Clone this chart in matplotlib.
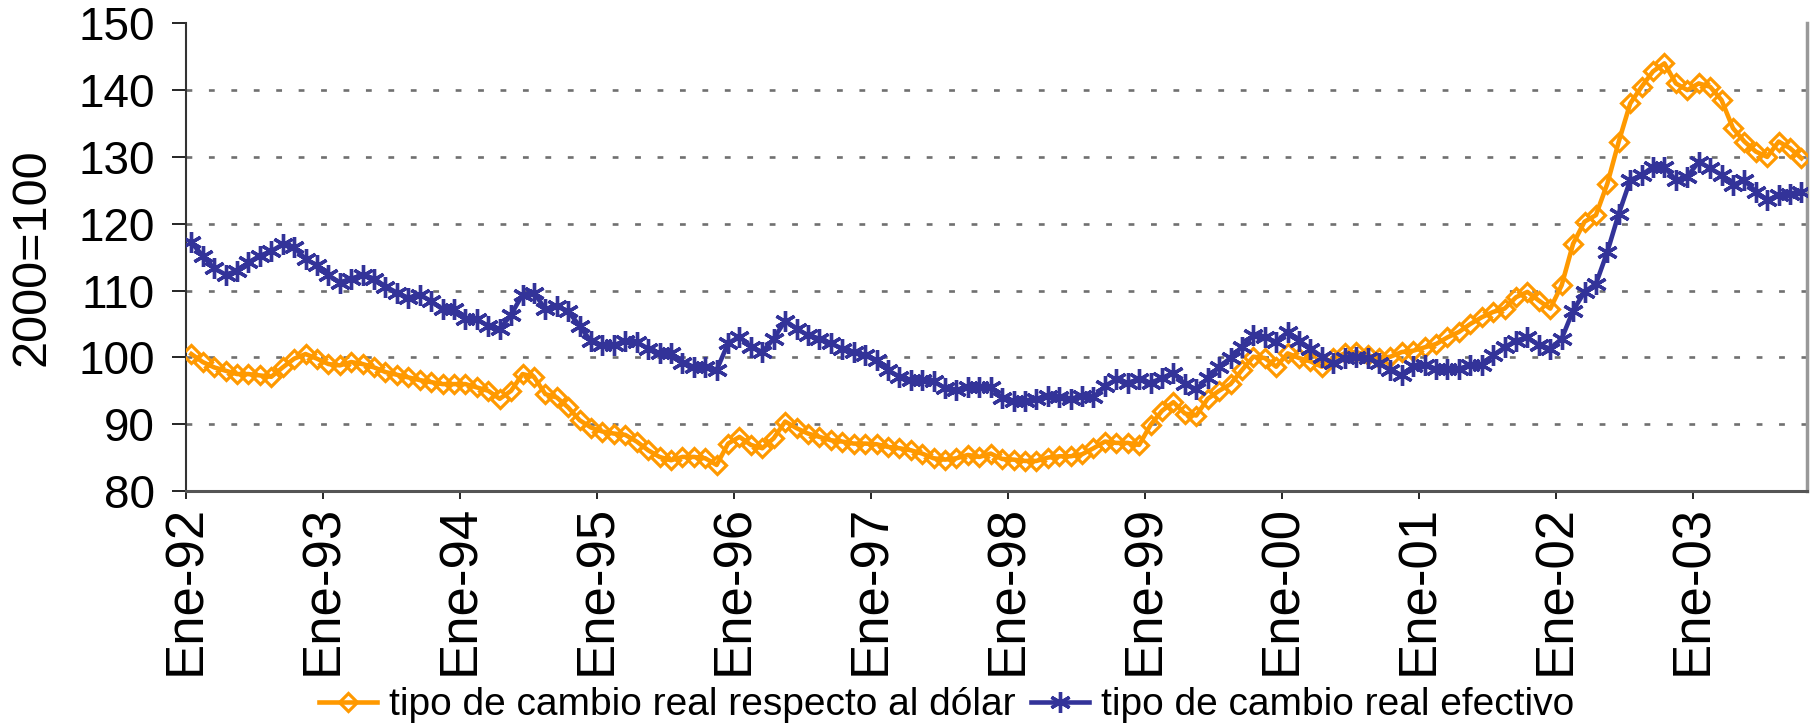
import numpy as np
import matplotlib.pyplot as plt
from matplotlib.lines import Line2D

plt.rcParams['font.family'] = ['Liberation Sans', 'DejaVu Sans']

# indices mensuales, ene-92 a oct-03 (2000=100)
dolar = [100.5, 99.3, 98.5, 98.0, 97.5, 97.5, 97.3, 97.1, 98.5, 99.8, 100.5, 99.8,
         99.0, 98.8, 99.3, 99.0, 98.5, 97.8, 97.4, 97.0, 96.6, 96.3, 96.0, 96.0,
         96.0, 95.5, 95.0, 93.8, 95.0, 97.5, 97.1, 94.5, 94.0, 92.5, 90.6, 89.5,
         88.9, 88.6, 88.4, 87.4, 86.1, 85.1, 84.6, 85.1, 85.1, 84.9, 83.9, 87.1,
         88.1, 86.9, 86.4, 87.9, 90.4, 89.4, 88.6, 88.1, 87.6, 87.4, 87.1, 87.1,
         87.0, 86.6, 86.4, 86.1, 85.6, 84.9, 84.7, 84.9, 85.4, 85.1, 85.6, 84.8,
         84.7, 84.5, 84.5, 85.0, 85.2, 85.2, 85.5, 86.4, 87.4, 87.2, 87.2, 86.9,
         89.9, 92.0, 93.3, 91.6, 91.3, 93.8, 95.0, 96.0, 98.1, 100.1, 99.9, 98.6,
         100.6, 99.9, 99.4, 98.6, 99.9, 100.6, 100.8, 100.3, 99.9, 100.1, 100.8, 101.0,
         101.5, 102.0, 103.0, 103.8, 105.0, 106.0, 106.8, 107.3, 109.0, 109.8, 108.5, 107.3,
         110.8, 117.0, 120.3, 121.3, 126.0, 132.3, 138.0, 140.5, 142.8, 144.0, 141.0, 140.0,
         141.0, 140.5, 138.5, 134.3, 132.3, 130.8, 130.0, 132.3, 131.3, 129.8]

efectivo = [117.2, 115.2, 113.3, 112.4, 112.9, 114.2, 115.2, 115.9, 116.9, 116.5, 114.7, 113.8,
            112.3, 111.2, 111.8, 112.3, 111.8, 110.6, 109.7, 108.9, 109.4, 108.4, 107.2, 107.2,
            105.7, 105.7, 104.7, 104.2, 106.4, 109.4, 109.7, 107.2, 107.7, 106.9, 104.7, 102.4,
            101.8, 101.8, 102.5, 102.3, 101.3, 100.6, 100.6, 99.1, 98.6, 98.6, 98.1, 102.1,
            103.1, 101.6, 100.8, 102.8, 105.5, 104.3, 103.3, 102.8, 102.1, 101.3, 100.8, 100.3,
            99.6, 98.1, 97.1, 96.6, 96.6, 96.4, 95.4, 95.1, 95.6, 95.6, 95.6, 93.9,
            93.5, 93.5, 93.8, 94.2, 94.0, 93.8, 94.2, 94.0, 95.7, 96.7, 96.2, 96.7,
            96.2, 96.9, 97.7, 96.0, 95.2, 96.9, 98.6, 99.9, 101.6, 103.3, 103.0, 102.3,
            103.8, 102.5, 101.3, 100.1, 99.1, 99.9, 100.1, 99.9, 99.1, 98.1, 97.3, 98.7,
            98.8, 98.3, 98.3, 98.3, 98.8, 98.8, 100.3, 101.5, 102.5, 103.0, 101.8, 101.3,
            102.8, 107.0, 109.8, 111.0, 115.8, 121.5, 126.5, 127.3, 128.5, 128.5, 126.5, 127.0,
            129.3, 128.3, 127.3, 125.8, 126.5, 124.8, 123.5, 124.3, 124.5, 124.8]

year_labels = ['Ene-92', 'Ene-93', 'Ene-94', 'Ene-95', 'Ene-96', 'Ene-97',
               'Ene-98', 'Ene-99', 'Ene-00', 'Ene-01', 'Ene-02', 'Ene-03']
y_ticks = [80, 90, 100, 110, 120, 130, 140, 150]

naranja = '#FF9900'
azul = '#333399'

# each month sits in the middle of its category slot
meses = np.arange(len(dolar)) + 0.5

fig = plt.figure(figsize=(18.13, 7.27), dpi=100)
ax = fig.add_axes([0.1024, 0.3246, 0.8944, 0.6434])

estilo_dolar = dict(color=naranja, lw=3.3, marker='D', ms=9.5, mfc='none', mec=naranja, mew=2.3)
estilo_efectivo = dict(color=azul, lw=3.3, marker=(6, 2, 0), ms=15, mec=azul, mew=2.4)

ax.plot(meses, dolar, zorder=3, **estilo_dolar)
ax.plot(meses, efectivo, zorder=4, **estilo_efectivo)

ax.set_xlim(0, len(dolar))
ax.set_ylim(80, 150)
ax.set_xticks(np.arange(len(year_labels)) * 12)
ax.set_xticklabels(year_labels, rotation=90, fontsize=38)
ax.set_yticks(y_ticks)
ax.set_yticklabels([str(v) for v in y_ticks], fontsize=33)

ax.tick_params(axis='y', direction='out', length=10, width=1.2, pad=12, colors='black')
ax.tick_params(axis='x', direction='out', length=6, width=1.2, pad=4, colors='black')

ax.set_ylabel('2000=100', fontsize=35)
ax.yaxis.set_label_coords(-0.081, 0.5)

# dotted horizontal grid, skipping the frame edges
ax.set_axisbelow(True)
ax.yaxis.grid(True, color='#707070', lw=1.9, ls=(0, (2.2, 6.3)))
ax.yaxis.get_major_ticks()[-1].gridline.set_visible(False)
ax.yaxis.get_major_ticks()[0].gridline.set_visible(False)

ax.spines['top'].set_visible(False)
ax.spines['left'].set_color('#333333')
ax.spines['left'].set_linewidth(1.5)
ax.spines['bottom'].set_color('#555555')
ax.spines['bottom'].set_linewidth(2.2)
ax.spines['right'].set_color('#999999')
ax.spines['right'].set_linewidth(2.5)

handles = [Line2D([], [], **estilo_dolar), Line2D([], [], **estilo_efectivo)]
fig.legend(handles, ['tipo de cambio real respecto al dólar', 'tipo de cambio real efectivo'],
           loc='center', bbox_to_anchor=(0.522, 0.03), ncol=2, frameon=False,
           fontsize=28, handlelength=1.5, handletextpad=0.3, columnspacing=0.4,
           borderaxespad=0)

fig.savefig('out.png', dpi=100)
